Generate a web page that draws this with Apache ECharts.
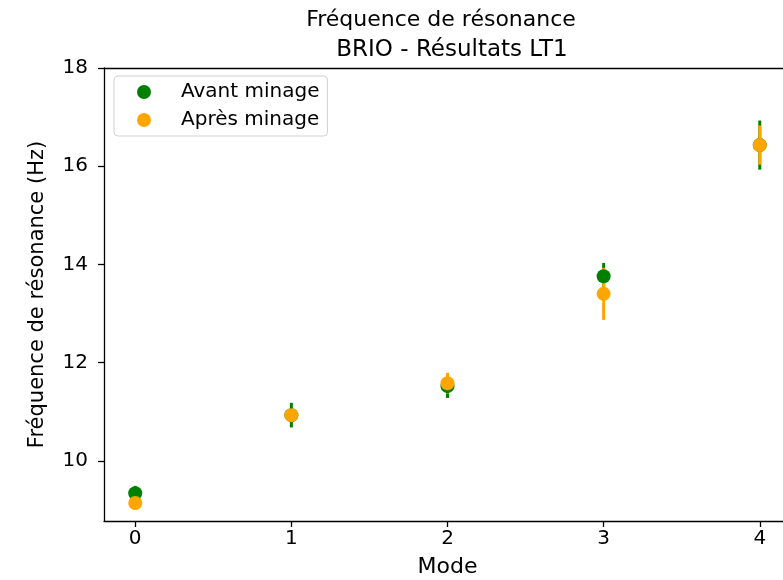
<!DOCTYPE html>
<html>
<head>
<meta charset="utf-8">
<script src="https://cdn.jsdelivr.net/npm/echarts@6/dist/echarts.min.js"></script>
<style>html,body{margin:0;padding:0;background:#fff}#c{width:783px;height:580px}</style>
</head>
<body>
<div id="c"></div>
<script>
const modes = [0, 1, 2, 3, 4];
const avant = [9.34, 10.93, 11.52, 13.76, 16.43];
const avantErr = [0.15, 0.25, 0.24, 0.27, 0.50];
const apres = [9.14, 10.93, 11.58, 13.40, 16.43];
const apresErr = [0.14, 0.12, 0.21, 0.53, 0.40];
const xTicks = [0, 1, 2, 3, 4];
const yTicks = [10, 12, 14, 16, 18];

const FONT = 'DejaVu Sans';
const chart = echarts.init(document.getElementById('c'), null, {renderer: 'canvas'});

function errSeries(vals, errs, color, name) {
  return {
    type: 'custom',
    name: name,
    data: modes.map((m, i) => [m, vals[i], errs[i]]),
    renderItem: function (params, api) {
      const x = api.value(0), y = api.value(1), e = api.value(2);
      const p1 = api.coord([x, y - e]);
      const p2 = api.coord([x, y + e]);
      return {
        type: 'line',
        shape: {x1: p1[0], y1: p1[1], x2: p2[0], y2: p2[1]},
        style: {stroke: color, lineWidth: 3}
      };
    },
    clip: false,
    silent: true,
    z: 2
  };
}

const axisLine = {show: true, onZero: false, lineStyle: {color: '#000', width: 1.3}};

chart.setOption({
  animation: false,
  backgroundColor: '#fff',
  title: [
    {text: 'Fréquence de résonance', left: 436, top: 4, textAlign: 'center',
     textStyle: {fontFamily: FONT, fontSize: 22, fontWeight: 'normal', color: '#000'}},
    {text: 'BRIO - Résultats LT1', left: 447, top: 34, textAlign: 'center',
     textStyle: {fontFamily: FONT, fontSize: 23, fontWeight: 'normal', color: '#000'}}
  ],
  grid: {left: 104, top: 68, width: 687, height: 453, show: false, containLabel: false, outerBoundsMode: 'none'},
  legend: {
    data: ['Avant minage', 'Après minage'],
    orient: 'vertical',
    left: 114, top: 76,
    padding: [5, 8, 5, 23],
    itemWidth: 14, itemHeight: 14, itemGap: 6,
    icon: 'circle',
    borderColor: '#d0d0d0', borderWidth: 1, borderRadius: 4,
    backgroundColor: '#fff',
    textStyle: {fontFamily: FONT, fontSize: 20, color: '#000', padding: [0, 0, 0, 25], lineHeight: 22}
  },
  xAxis: [{
    type: 'value', min: -0.2, max: 4.2,
    name: 'Mode', nameLocation: 'middle', nameGap: 35,
    nameTextStyle: {fontFamily: FONT, fontSize: 22, color: '#000'},
    axisLine: axisLine,
    axisTick: {show: true, length: 6, lineStyle: {color: '#000', width: 1.3}, customValues: xTicks},
    axisLabel: {fontFamily: FONT, fontSize: 20, color: '#000', margin: 8, customValues: xTicks},
    splitLine: {show: false}
  }, {
    type: 'value', min: -0.2, max: 4.2, position: 'top',
    axisLine: axisLine, axisTick: {show: false}, axisLabel: {show: false}, splitLine: {show: false}
  }],
  yAxis: {
    type: 'value', min: 8.774, max: 18,
    name: 'Fréquence de résonance (Hz)', nameLocation: 'middle', nameGap: 56,
    nameTextStyle: {fontFamily: FONT, fontSize: 21, color: '#000'},
    axisLine: axisLine,
    axisTick: {show: true, length: 6, lineStyle: {color: '#000', width: 1.3}, customValues: yTicks},
    axisLabel: {fontFamily: FONT, fontSize: 20, color: '#000', margin: 16, customValues: yTicks},
    splitLine: {show: false}
  },
  series: [
    errSeries(avant, avantErr, '#008000', 'errAvant'),
    errSeries(apres, apresErr, '#FFA500', 'errApres'),
    {type: 'scatter', name: 'Avant minage', data: modes.map((m, i) => [m, avant[i]]),
     symbolSize: 14, itemStyle: {color: '#008000', opacity: 1}, z: 3},
    {type: 'scatter', name: 'Après minage', data: modes.map((m, i) => [m, apres[i]]),
     symbolSize: 14, itemStyle: {color: '#FFA500', opacity: 1}, z: 4}
  ]
});
</script>
</body>
</html>
